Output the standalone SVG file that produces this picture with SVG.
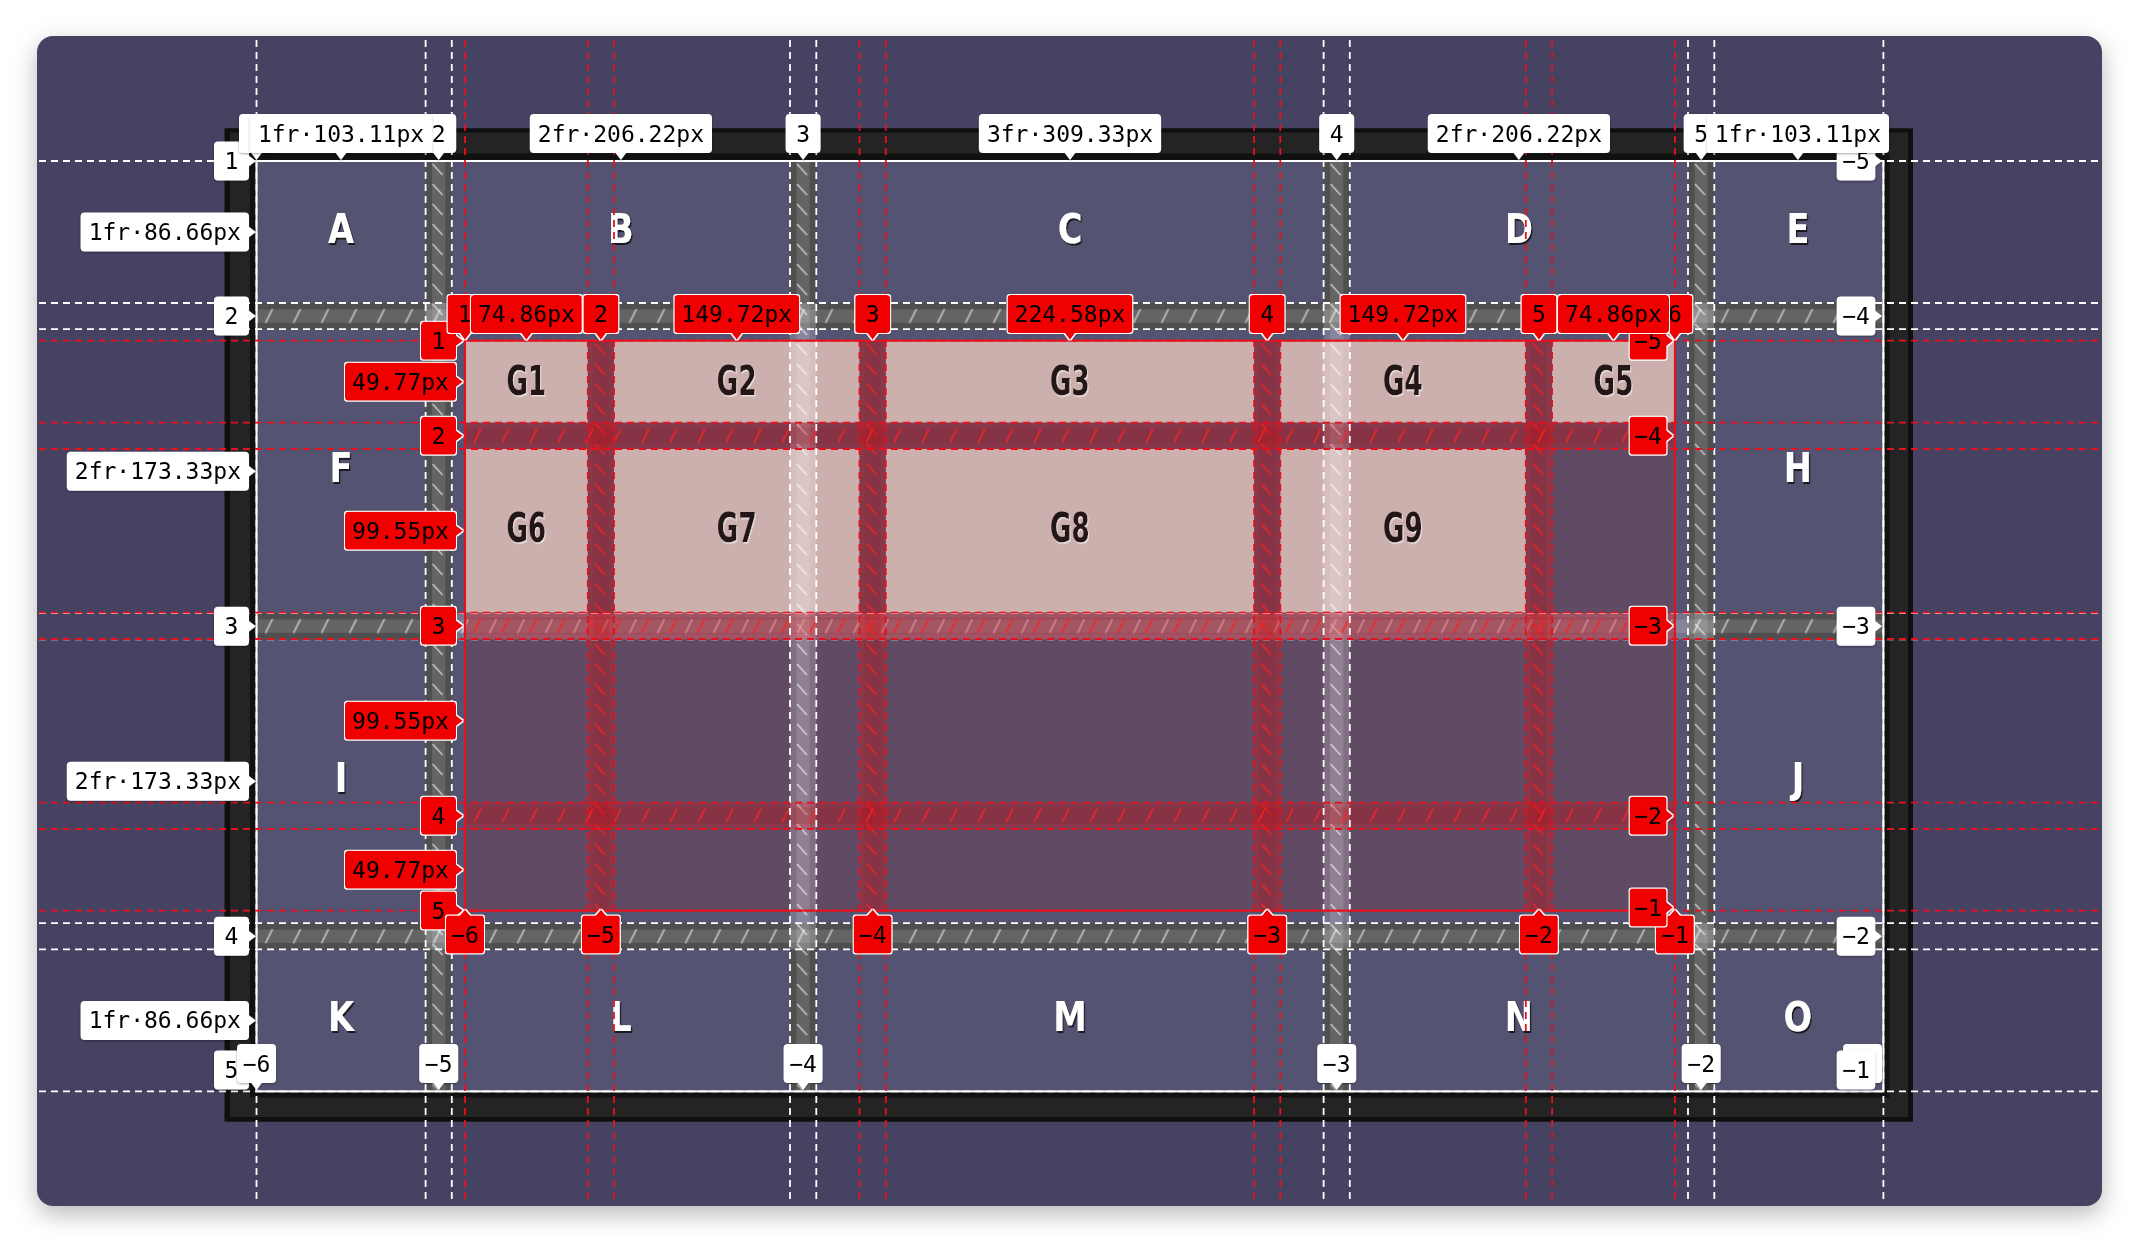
<svg xmlns="http://www.w3.org/2000/svg" width="2138" height="1242" viewBox="0 0 2138 1242">
<style>
.t{font-family:"DejaVu Sans Mono","Liberation Mono",monospace;font-size:23px;text-anchor:middle;fill:#000}
.lw rect,.lw path{fill:#fff}
.lr rect,.lr path{fill:#f00000}
.cell{fill:#545372}
.item{fill:#ccb0ae}
.cl{font-family:"DejaVu Sans","Liberation Sans",sans-serif;font-weight:bold;font-size:41px;fill:#fff;text-anchor:middle}
.gl{font-family:"DejaVu Sans","Liberation Sans",sans-serif;font-weight:bold;font-size:41px;fill:#241515;text-anchor:middle}
.pl{stroke:#fff;stroke-width:1.8;stroke-dasharray:7 5;fill:none}
.nl{stroke:#e8101c;stroke-width:1.8;stroke-dasharray:7 5;fill:none}
</style>
<defs>
<filter id="cs" x="-5%" y="-5%" width="110%" height="115%"><feDropShadow dx="0" dy="8" stdDeviation="12" flood-color="#000" flood-opacity="0.28"/></filter>
<filter id="ls" x="-20%" y="-40%" width="140%" height="180%"><feDropShadow dx="0" dy="1" stdDeviation="1.2" flood-color="#000" flood-opacity="0.35"/></filter>
<filter id="ro" x="-20%" y="-40%" width="140%" height="180%"><feMorphology in="SourceAlpha" operator="dilate" radius="1.4" result="d"/><feFlood flood-color="#fff"/><feComposite in2="d" operator="in"/><feMerge><feMergeNode/><feMergeNode in="SourceGraphic"/></feMerge></filter>
<filter id="ts" x="-30%" y="-30%" width="160%" height="160%"><feDropShadow dx="1.5" dy="2" stdDeviation="0.6" flood-color="#111" flood-opacity="0.85"/></filter>
<filter id="gs" x="-30%" y="-30%" width="160%" height="160%"><feDropShadow dx="1.5" dy="1.5" stdDeviation="0.5" flood-color="#fff" flood-opacity="0.6"/></filter>
<pattern id="hv" width="26.2" height="20" patternUnits="userSpaceOnUse"><path d="M7 3 L17 14" stroke="#fff" stroke-opacity="0.6" stroke-width="1.6"/></pattern>
<pattern id="hh" width="28" height="26.2" patternUnits="userSpaceOnUse"><path d="M9 20 L16 6" stroke="#fff" stroke-opacity="0.6" stroke-width="1.6"/></pattern>
<pattern id="rv" width="26.2" height="20" patternUnits="userSpaceOnUse"><path d="M7 3 L17 14" stroke="#ff2020" stroke-opacity="0.85" stroke-width="1.6"/></pattern>
<pattern id="rh" width="28" height="26.4" patternUnits="userSpaceOnUse"><path d="M9 20 L16 6" stroke="#ff2020" stroke-opacity="0.85" stroke-width="1.6"/></pattern>
<g id="pbv"><rect width="26.2" height="930.4" fill="#fff" fill-opacity="0.2"/><rect x="6.5" width="13.2" height="930.4" fill="#fff" fill-opacity="0.12"/><rect width="26.2" height="930.4" fill="url(#hv)"/></g>
<g id="pbh"><rect width="1626.9" height="26.2" fill="#fff" fill-opacity="0.2"/><rect y="6.5" width="1626.9" height="13.2" fill="#fff" fill-opacity="0.12"/><rect width="1626.9" height="26.2" fill="url(#hh)"/></g>
<g id="nbv"><rect width="26.2" height="569.9" fill="#ff0000" fill-opacity="0.25"/><rect x="5" width="16.2" height="569.9" fill="#7a1020" fill-opacity="0.12"/><rect width="26.2" height="569.9" fill="url(#rv)"/></g>
<g id="nbh"><rect width="1209.9" height="26.4" fill="#ff0000" fill-opacity="0.25"/><rect y="5" width="1209.9" height="16.4" fill="#7a1020" fill-opacity="0.12"/><rect width="1209.9" height="26.4" fill="url(#rh)"/></g>
</defs>
<rect width="2138" height="1242" fill="#ffffff"/>
<rect x="37" y="36" width="2065" height="1170" rx="16" fill="#444262" filter="url(#cs)"/>
<g id="frame">
<rect x="224.5" y="128.3" width="1688.5" height="993.4" fill="#0f0f0f"/>
<rect x="230" y="132.5" width="1678" height="984.5" fill="#242424"/>
<rect x="250" y="153.5" width="1639.5" height="944" fill="#111"/>
<rect x="256.5" y="161" width="1626.9" height="930.4" fill="#242424"/>
</g>
<g id="cells">
<g id="cell-A"><rect class="cell" x="256.5" y="161" width="169.1" height="142"/><text class="cl" filter="url(#ts)" transform="translate(341 243) scale(0.82 1)">A</text></g>
<g id="cell-B"><rect class="cell" x="451.8" y="161" width="338.2" height="142"/><text class="cl" filter="url(#ts)" transform="translate(620.9 243) scale(0.82 1)">B</text></g>
<g id="cell-C"><rect class="cell" x="816.3" y="161" width="507.3" height="142"/><text class="cl" filter="url(#ts)" transform="translate(1070 243) scale(0.82 1)">C</text></g>
<g id="cell-D"><rect class="cell" x="1349.8" y="161" width="338.2" height="142"/><text class="cl" filter="url(#ts)" transform="translate(1518.9 243) scale(0.82 1)">D</text></g>
<g id="cell-E"><rect class="cell" x="1714.3" y="161" width="169.1" height="142"/><text class="cl" filter="url(#ts)" transform="translate(1797.9 243) scale(0.82 1)">E</text></g>
<g id="cell-F"><rect class="cell" x="256.5" y="329.2" width="169.1" height="283.9"/><text class="cl" filter="url(#ts)" transform="translate(341 482.2) scale(0.82 1)">F</text></g>
<g id="cell-host"><rect class="cell" x="451.8" y="329.2" width="1236.2" height="594"/></g>
<g id="cell-H"><rect class="cell" x="1714.3" y="329.2" width="169.1" height="283.9"/><text class="cl" filter="url(#ts)" transform="translate(1797.9 482.2) scale(0.82 1)">H</text></g>
<g id="cell-I"><rect class="cell" x="256.5" y="639.3" width="169.1" height="283.9"/><text class="cl" filter="url(#ts)" transform="translate(341 792.3) scale(0.82 1)">I</text></g>
<g id="cell-J"><rect class="cell" x="1714.3" y="639.3" width="169.1" height="283.9"/><text class="cl" filter="url(#ts)" transform="translate(1797.9 792.3) scale(0.82 1)">J</text></g>
<g id="cell-K"><rect class="cell" x="256.5" y="949.4" width="169.1" height="142"/><text class="cl" filter="url(#ts)" transform="translate(341 1031.4) scale(0.82 1)">K</text></g>
<g id="cell-L"><rect class="cell" x="451.8" y="949.4" width="338.2" height="142"/><text class="cl" filter="url(#ts)" transform="translate(620.9 1031.4) scale(0.82 1)">L</text></g>
<g id="cell-M"><rect class="cell" x="816.3" y="949.4" width="507.3" height="142"/><text class="cl" filter="url(#ts)" transform="translate(1070 1031.4) scale(0.82 1)">M</text></g>
<g id="cell-N"><rect class="cell" x="1349.8" y="949.4" width="338.2" height="142"/><text class="cl" filter="url(#ts)" transform="translate(1518.9 1031.4) scale(0.82 1)">N</text></g>
<g id="cell-O"><rect class="cell" x="1714.3" y="949.4" width="169.1" height="142"/><text class="cl" filter="url(#ts)" transform="translate(1797.9 1031.4) scale(0.82 1)">O</text></g>
</g>
<g id="nested">
<rect x="465" y="340.7" width="1209.9" height="569.9" fill="#614b64"/>
<g id="G1"><rect class="item" x="465" y="340.7" width="122.8" height="81.9"/><text class="gl" filter="url(#gs)" transform="translate(526.4 394.5) scale(0.64 1)">G1</text></g>
<g id="G2"><rect class="item" x="614" y="340.7" width="245.5" height="81.9"/><text class="gl" filter="url(#gs)" transform="translate(736.75 394.5) scale(0.64 1)">G2</text></g>
<g id="G3"><rect class="item" x="885.8" y="340.7" width="368.3" height="81.9"/><text class="gl" filter="url(#gs)" transform="translate(1069.95 394.5) scale(0.64 1)">G3</text></g>
<g id="G4"><rect class="item" x="1280.3" y="340.7" width="245.5" height="81.9"/><text class="gl" filter="url(#gs)" transform="translate(1402.95 394.5) scale(0.64 1)">G4</text></g>
<g id="G5"><rect class="item" x="1552.1" y="340.7" width="122.8" height="81.9"/><text class="gl" filter="url(#gs)" transform="translate(1613.5 394.5) scale(0.64 1)">G5</text></g>
<g id="G6"><rect class="item" x="465" y="449" width="122.8" height="163.6"/><text class="gl" filter="url(#gs)" transform="translate(526.4 542) scale(0.64 1)">G6</text></g>
<g id="G7"><rect class="item" x="614" y="449" width="245.5" height="163.6"/><text class="gl" filter="url(#gs)" transform="translate(736.75 542) scale(0.64 1)">G7</text></g>
<g id="G8"><rect class="item" x="885.8" y="449" width="368.3" height="163.6"/><text class="gl" filter="url(#gs)" transform="translate(1069.95 542) scale(0.64 1)">G8</text></g>
<g id="G9"><rect class="item" x="1280.3" y="449" width="245.5" height="163.6"/><text class="gl" filter="url(#gs)" transform="translate(1402.95 542) scale(0.64 1)">G9</text></g>
</g>
<g id="parent-gaps">
<use href="#pbv" x="425.6" y="161"/><use href="#pbv" x="790" y="161"/><use href="#pbv" x="1323.6" y="161"/><use href="#pbv" x="1688" y="161"/>
<use href="#pbh" x="256.5" y="303"/><use href="#pbh" x="256.5" y="613.1"/><use href="#pbh" x="256.5" y="923.2"/>
</g>
<g id="nested-gaps">
<use href="#nbv" x="587.8" y="340.7"/><use href="#nbv" x="859.5" y="340.7"/><use href="#nbv" x="1254.1" y="340.7"/><use href="#nbv" x="1525.8" y="340.7"/>
<use href="#nbh" x="465" y="422.6"/><use href="#nbh" x="465" y="612.6"/><use href="#nbh" x="465" y="802.6"/>
</g>
<g id="connectors">
<g class="pl">
<path d="M256.5 40V1202M425.6 40V1202M451.8 40V1202M790 40V1202M816.3 40V1202M1323.6 40V1202M1349.8 40V1202M1688 40V1202M1714.3 40V1202M1883.4 40V1202"/>
<path d="M39 161H2099M39 303H2099M39 329.2H2099M39 613.1H2099M39 639.3H2099M39 923.2H2099M39 949.4H2099M39 1091.4H2099"/>
</g>
<rect x="256.5" y="161" width="1626.9" height="930.4" fill="none" stroke="#fff" stroke-width="2"/>
<g class="nl">
<path d="M465 40V1202M587.8 40V1202M614 40V1202M859.5 40V1202M885.8 40V1202M1254.1 40V1202M1280.3 40V1202M1525.8 40V1202M1552.1 40V1202M1674.9 40V1202"/>
<path d="M39 340.7H2099M39 422.6H2099M39 449H2099M39 612.6H2099M39 639H2099M39 802.6H2099M39 829H2099M39 910.6H2099"/>
</g>
<rect x="465" y="340.7" width="1209.9" height="569.9" fill="none" stroke="#e8101c" stroke-width="2"/>
</g>
<g id="parent-labels">
<g class="lw" filter="url(#ls)"><rect x="214" y="141.5" width="35" height="39" rx="4"/><path d="M248 155L256 161L248 167Z"/><text class="t" x="231.5" y="169">1</text></g>
<g class="lw" filter="url(#ls)"><rect x="214" y="296.6" width="35" height="39" rx="4"/><path d="M248 310.1L256 316.1L248 322.1Z"/><text class="t" x="231.5" y="324.1">2</text></g>
<g class="lw" filter="url(#ls)"><rect x="214" y="606.7" width="35" height="39" rx="4"/><path d="M248 620.2L256 626.2L248 632.2Z"/><text class="t" x="231.5" y="634.2">3</text></g>
<g class="lw" filter="url(#ls)"><rect x="214" y="916.8" width="35" height="39" rx="4"/><path d="M248 930.3L256 936.3L248 942.3Z"/><text class="t" x="231.5" y="944.3">4</text></g>
<g class="lw" filter="url(#ls)"><rect x="214" y="1050.5" width="35" height="39" rx="4"/><text class="t" x="231.5" y="1078">5</text></g>
<g class="lw" filter="url(#ls)"><rect x="80.6" y="212.5" width="168.4" height="39" rx="4"/><path d="M248 226L256 232L248 238Z"/><text class="t" x="164.8" y="240">1fr·86.66px</text></g>
<g class="lw" filter="url(#ls)"><rect x="66.8" y="451.7" width="182.2" height="39" rx="4"/><path d="M248 465.2L256 471.2L248 477.2Z"/><text class="t" x="157.9" y="479.2">2fr·173.33px</text></g>
<g class="lw" filter="url(#ls)"><rect x="66.8" y="761.8" width="182.2" height="39" rx="4"/><path d="M248 775.3L256 781.3L248 787.3Z"/><text class="t" x="157.9" y="789.3">2fr·173.33px</text></g>
<g class="lw" filter="url(#ls)"><rect x="80.6" y="1000.9" width="168.4" height="39" rx="4"/><path d="M248 1014.4L256 1020.4L248 1026.4Z"/><text class="t" x="164.8" y="1028.4">1fr·86.66px</text></g>
<g class="lw" filter="url(#ls)"><rect x="237" y="1044" width="39" height="39" rx="4"/><path d="M250.5 1082L256.5 1090L262.5 1082Z"/><text class="t" x="256.5" y="1071.5">−6</text></g>
<g class="lw" filter="url(#ls)"><rect x="419.2" y="1044" width="39" height="39" rx="4"/><path d="M432.7 1082L438.7 1090L444.7 1082Z"/><text class="t" x="438.7" y="1071.5">−5</text></g>
<g class="lw" filter="url(#ls)"><rect x="783.6" y="1044" width="39" height="39" rx="4"/><path d="M797.1 1082L803.1 1090L809.1 1082Z"/><text class="t" x="803.1" y="1071.5">−4</text></g>
<g class="lw" filter="url(#ls)"><rect x="1317.2" y="1044" width="39" height="39" rx="4"/><path d="M1330.7 1082L1336.7 1090L1342.7 1082Z"/><text class="t" x="1336.7" y="1071.5">−3</text></g>
<g class="lw" filter="url(#ls)"><rect x="1681.7" y="1044" width="39" height="39" rx="4"/><path d="M1695.2 1082L1701.2 1090L1707.2 1082Z"/><text class="t" x="1701.2" y="1071.5">−2</text></g>
<g class="lw" filter="url(#ls)"><rect x="1843" y="1044" width="39" height="39" rx="4"/></g>
<g class="lw" filter="url(#ls)"><rect x="1836.7" y="141.5" width="38.6" height="39" rx="4"/><path d="M1874.3 155L1882 161L1874.3 167Z"/><text class="t" x="1856" y="169">−5</text></g>
<g class="lw" filter="url(#ls)"><rect x="1836.7" y="296.6" width="38.6" height="39" rx="4"/><path d="M1874.3 310.1L1882 316.1L1874.3 322.1Z"/><text class="t" x="1856" y="324.1">−4</text></g>
<g class="lw" filter="url(#ls)"><rect x="1836.7" y="606.7" width="38.6" height="39" rx="4"/><path d="M1874.3 620.2L1882 626.2L1874.3 632.2Z"/><text class="t" x="1856" y="634.2">−3</text></g>
<g class="lw" filter="url(#ls)"><rect x="1836.7" y="916.8" width="38.6" height="39" rx="4"/><path d="M1874.3 930.3L1882 936.3L1874.3 942.3Z"/><text class="t" x="1856" y="944.3">−2</text></g>
<g class="lw" filter="url(#ls)"><rect x="1836.7" y="1050.5" width="38.6" height="39" rx="4"/><text class="t" x="1856" y="1078">−1</text></g>
<g class="lw" filter="url(#ls)"><rect x="239" y="114" width="35" height="39" rx="4"/><path d="M250.5 152L256.5 160L262.5 152Z"/></g>
<g class="lw" filter="url(#ls)"><rect x="421.2" y="114" width="35" height="39" rx="4"/><path d="M432.7 152L438.7 160L444.7 152Z"/><text class="t" x="438.7" y="141.5">2</text></g>
<g class="lw" filter="url(#ls)"><rect x="785.6" y="114" width="35" height="39" rx="4"/><path d="M797.1 152L803.1 160L809.1 152Z"/><text class="t" x="803.1" y="141.5">3</text></g>
<g class="lw" filter="url(#ls)"><rect x="1319.2" y="114" width="35" height="39" rx="4"/><path d="M1330.7 152L1336.7 160L1342.7 152Z"/><text class="t" x="1336.7" y="141.5">4</text></g>
<g class="lw" filter="url(#ls)"><rect x="1683.7" y="114" width="35" height="39" rx="4"/><path d="M1695.2 152L1701.2 160L1707.2 152Z"/><text class="t" x="1701.2" y="141.5">5</text></g>
<g class="lw" filter="url(#ls)"><rect x="249.9" y="114" width="182.2" height="39" rx="4"/><path d="M335 152L341 160L347 152Z"/><text class="t" x="341" y="141.5">1fr·103.11px</text></g>
<g class="lw" filter="url(#ls)"><rect x="529.8" y="114" width="182.2" height="39" rx="4"/><path d="M614.9 152L620.9 160L626.9 152Z"/><text class="t" x="620.9" y="141.5">2fr·206.22px</text></g>
<g class="lw" filter="url(#ls)"><rect x="978.9" y="114" width="182.2" height="39" rx="4"/><path d="M1064 152L1070 160L1076 152Z"/><text class="t" x="1070" y="141.5">3fr·309.33px</text></g>
<g class="lw" filter="url(#ls)"><rect x="1427.8" y="114" width="182.2" height="39" rx="4"/><path d="M1512.9 152L1518.9 160L1524.9 152Z"/><text class="t" x="1518.9" y="141.5">2fr·206.22px</text></g>
<g class="lw" filter="url(#ls)"><rect x="1706.8" y="114" width="182.2" height="39" rx="4"/><path d="M1791.9 152L1797.9 160L1803.9 152Z"/><text class="t" x="1797.9" y="141.5">1fr·103.11px</text></g>
</g>
<g id="nested-labels">
<g class="lr" filter="url(#ro)"><rect x="421" y="321.7" width="35" height="38" rx="3"/><path d="M455 334.7L463 340.7L455 346.7Z"/><text class="t" x="438.5" y="348.7">1</text></g>
<g class="lr" filter="url(#ro)"><rect x="421" y="416.8" width="35" height="38" rx="3"/><path d="M455 429.8L463 435.8L455 441.8Z"/><text class="t" x="438.5" y="443.8">2</text></g>
<g class="lr" filter="url(#ro)"><rect x="421" y="606.8" width="35" height="38" rx="3"/><path d="M455 619.8L463 625.8L455 631.8Z"/><text class="t" x="438.5" y="633.8">3</text></g>
<g class="lr" filter="url(#ro)"><rect x="421" y="796.8" width="35" height="38" rx="3"/><path d="M455 809.8L463 815.8L455 821.8Z"/><text class="t" x="438.5" y="823.8">4</text></g>
<g class="lr" filter="url(#ro)"><rect x="421" y="891.6" width="35" height="38" rx="3"/><path d="M455 904.6L463 910.6L455 916.6Z"/><text class="t" x="438.5" y="918.6">5</text></g>
<g class="lr" filter="url(#ro)"><rect x="345" y="362.65" width="111" height="38" rx="3"/><path d="M455 375.65L463 381.65L455 387.65Z"/><text class="t" x="400.5" y="389.65">49.77px</text></g>
<g class="lr" filter="url(#ro)"><rect x="345" y="511.8" width="111" height="38" rx="3"/><path d="M455 524.8L463 530.8L455 536.8Z"/><text class="t" x="400.5" y="538.8">99.55px</text></g>
<g class="lr" filter="url(#ro)"><rect x="345" y="701.8" width="111" height="38" rx="3"/><path d="M455 714.8L463 720.8L455 726.8Z"/><text class="t" x="400.5" y="728.8">99.55px</text></g>
<g class="lr" filter="url(#ro)"><rect x="345" y="850.8" width="111" height="38" rx="3"/><path d="M455 863.8L463 869.8L455 875.8Z"/><text class="t" x="400.5" y="877.8">49.77px</text></g>
<g class="lr" filter="url(#ro)"><rect x="446" y="915.5" width="38" height="38" rx="3"/><path d="M459 916.5L465 909.5L471 916.5Z"/><text class="t" x="465" y="942.5">−6</text></g>
<g class="lr" filter="url(#ro)"><rect x="581.9" y="915.5" width="38" height="38" rx="3"/><path d="M594.9 916.5L600.9 909.5L606.9 916.5Z"/><text class="t" x="600.9" y="942.5">−5</text></g>
<g class="lr" filter="url(#ro)"><rect x="853.65" y="915.5" width="38" height="38" rx="3"/><path d="M866.65 916.5L872.65 909.5L878.65 916.5Z"/><text class="t" x="872.65" y="942.5">−4</text></g>
<g class="lr" filter="url(#ro)"><rect x="1248.2" y="915.5" width="38" height="38" rx="3"/><path d="M1261.2 916.5L1267.2 909.5L1273.2 916.5Z"/><text class="t" x="1267.2" y="942.5">−3</text></g>
<g class="lr" filter="url(#ro)"><rect x="1519.95" y="915.5" width="38" height="38" rx="3"/><path d="M1532.95 916.5L1538.95 909.5L1544.95 916.5Z"/><text class="t" x="1538.95" y="942.5">−2</text></g>
<g class="lr" filter="url(#ro)"><rect x="1655.9" y="915.5" width="38" height="38" rx="3"/><path d="M1668.9 916.5L1674.9 909.5L1680.9 916.5Z"/><text class="t" x="1674.9" y="942.5">−1</text></g>
<g class="lr" filter="url(#ro)"><rect x="1629.6" y="321.7" width="37" height="38" rx="3"/><path d="M1665.6 334.7L1673 340.7L1665.6 346.7Z"/><text class="t" x="1648.1" y="348.7">−5</text></g>
<g class="lr" filter="url(#ro)"><rect x="1629.6" y="416.8" width="37" height="38" rx="3"/><path d="M1665.6 429.8L1673 435.8L1665.6 441.8Z"/><text class="t" x="1648.1" y="443.8">−4</text></g>
<g class="lr" filter="url(#ro)"><rect x="1629.6" y="606.8" width="37" height="38" rx="3"/><path d="M1665.6 619.8L1673 625.8L1665.6 631.8Z"/><text class="t" x="1648.1" y="633.8">−3</text></g>
<g class="lr" filter="url(#ro)"><rect x="1629.6" y="796.8" width="37" height="38" rx="3"/><path d="M1665.6 809.8L1673 815.8L1665.6 821.8Z"/><text class="t" x="1648.1" y="823.8">−2</text></g>
<g class="lr" filter="url(#ro)"><rect x="1629.6" y="888.5" width="37" height="38" rx="3"/><path d="M1665.6 901.5L1673 907.5L1665.6 913.5Z"/><text class="t" x="1648.1" y="915.5">−1</text></g>
<g class="lr" filter="url(#ro)"><rect x="447.5" y="295" width="35" height="38" rx="3"/><path d="M459 332L465 340L471 332Z"/><text class="t" x="465" y="322">1</text></g>
<g class="lr" filter="url(#ro)"><rect x="583.4" y="295" width="35" height="38" rx="3"/><path d="M594.9 332L600.9 340L606.9 332Z"/><text class="t" x="600.9" y="322">2</text></g>
<g class="lr" filter="url(#ro)"><rect x="855.15" y="295" width="35" height="38" rx="3"/><path d="M866.65 332L872.65 340L878.65 332Z"/><text class="t" x="872.65" y="322">3</text></g>
<g class="lr" filter="url(#ro)"><rect x="1249.7" y="295" width="35" height="38" rx="3"/><path d="M1261.2 332L1267.2 340L1273.2 332Z"/><text class="t" x="1267.2" y="322">4</text></g>
<g class="lr" filter="url(#ro)"><rect x="1521.45" y="295" width="35" height="38" rx="3"/><path d="M1532.95 332L1538.95 340L1544.95 332Z"/><text class="t" x="1538.95" y="322">5</text></g>
<g class="lr" filter="url(#ro)"><rect x="1657.4" y="295" width="35" height="38" rx="3"/><path d="M1668.9 332L1674.9 340L1680.9 332Z"/><text class="t" x="1674.9" y="322">6</text></g>
<g class="lr" filter="url(#ro)"><rect x="470.9" y="295" width="111" height="38" rx="3"/><path d="M520.4 332L526.4 340L532.4 332Z"/><text class="t" x="526.4" y="322">74.86px</text></g>
<g class="lr" filter="url(#ro)"><rect x="674.35" y="295" width="124.8" height="38" rx="3"/><path d="M730.75 332L736.75 340L742.75 332Z"/><text class="t" x="736.75" y="322">149.72px</text></g>
<g class="lr" filter="url(#ro)"><rect x="1007.55" y="295" width="124.8" height="38" rx="3"/><path d="M1063.95 332L1069.95 340L1075.95 332Z"/><text class="t" x="1069.95" y="322">224.58px</text></g>
<g class="lr" filter="url(#ro)"><rect x="1340.55" y="295" width="124.8" height="38" rx="3"/><path d="M1396.95 332L1402.95 340L1408.95 332Z"/><text class="t" x="1402.95" y="322">149.72px</text></g>
<g class="lr" filter="url(#ro)"><rect x="1558" y="295" width="111" height="38" rx="3"/><path d="M1607.5 332L1613.5 340L1619.5 332Z"/><text class="t" x="1613.5" y="322">74.86px</text></g>
</g>
</svg>
